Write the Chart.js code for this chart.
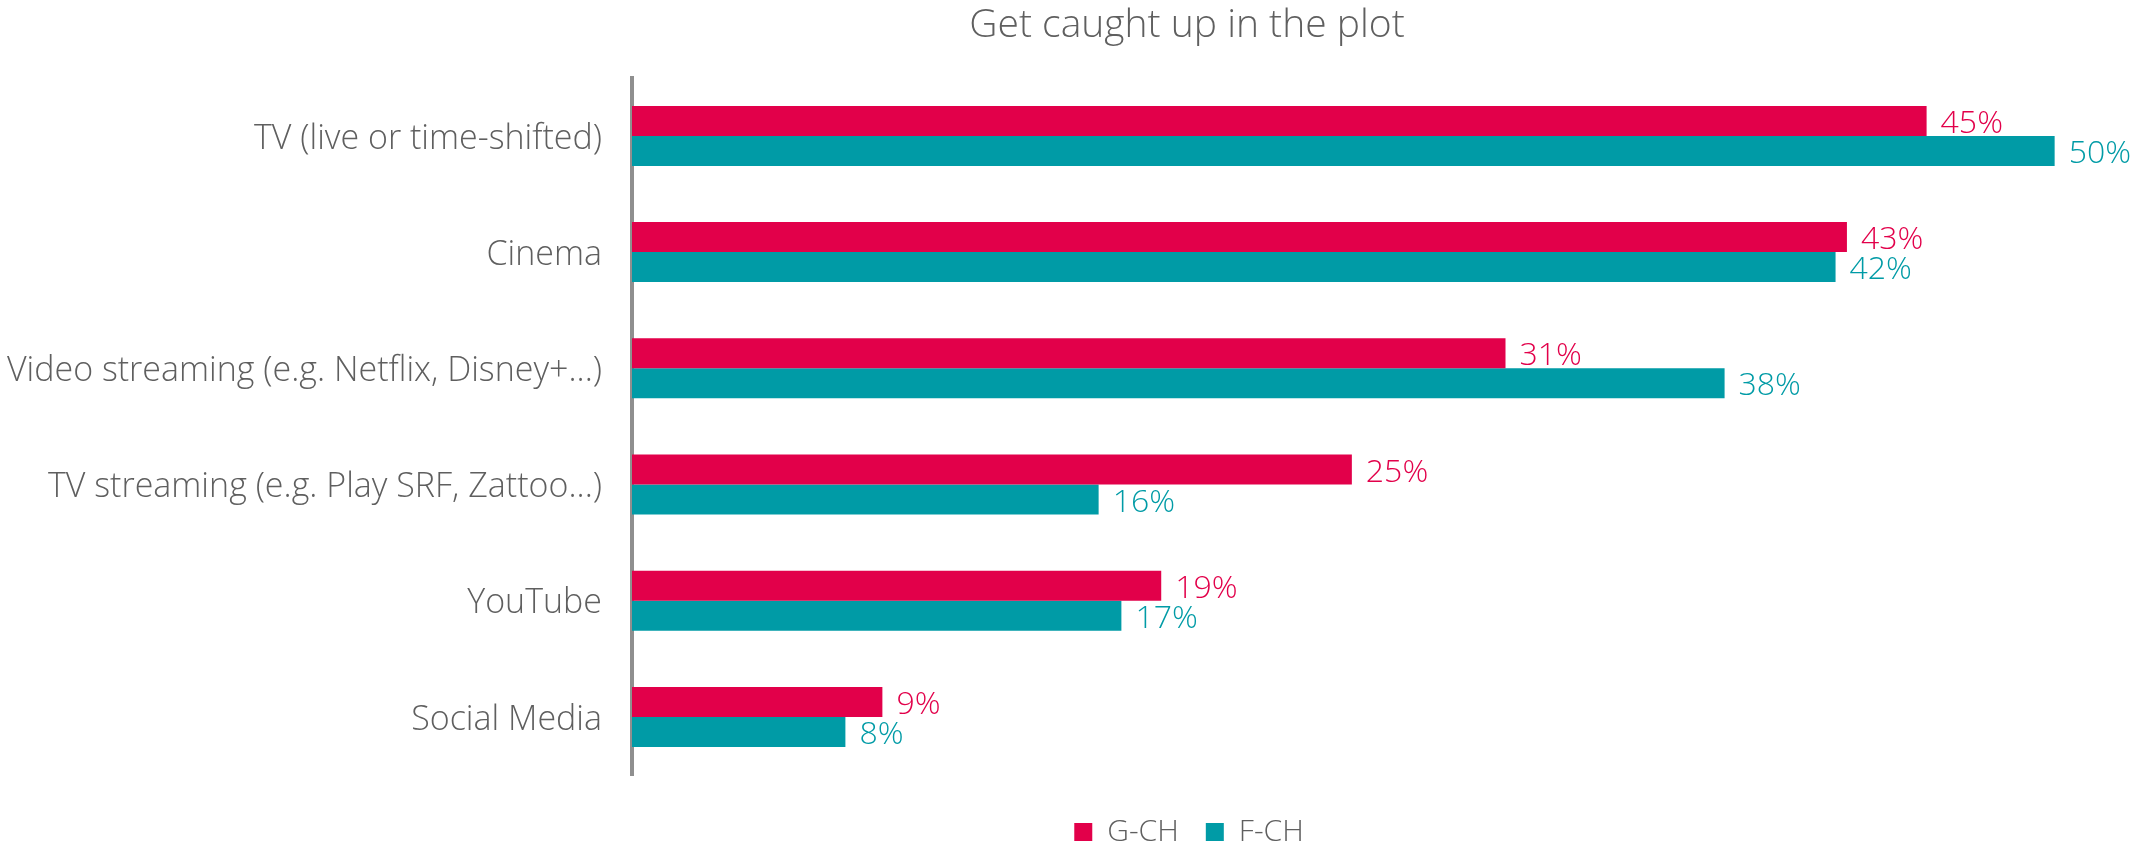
<!DOCTYPE html>
<html>
<head>
<meta charset="utf-8">
<script src="https://cdn.jsdelivr.net/npm/chart.js@4.4.1/dist/chart.umd.min.js"></script>
<style>
  html, body { margin: 0; padding: 0; background: #ffffff; }
  #wrap { width: 2152px; height: 845px; position: relative; }
</style>
</head>
<body>
<div id="wrap"><canvas id="c" width="2152" height="845"></canvas></div>
<script>
const categories = [
  'TV (live or time-shifted)',
  'Cinema',
  'Video streaming (e.g. Netflix, Disney+...)',
  'TV streaming (e.g. Play SRF, Zattoo...)',
  'YouTube',
  'Social Media'
];
const seriesNames = ['G-CH', 'F-CH'];
const valuesG = [45.5, 42.7, 30.7, 25.3, 18.6, 8.8];
const valuesF = [50.0, 42.3, 38.4, 16.4, 17.2, 7.5];
const labelsG = ['45%', '43%', '31%', '25%', '19%', '9%'];
const labelsF = ['50%', '42%', '38%', '16%', '17%', '8%'];
const colorG = '#e2004a';
const colorF = '#009ba6';
const FONT = '"Open Sans", Lato, sans-serif';
const TEXT_GRAY = '#5f5f5f';
const TITLE_DX = 117;
const LEGEND_DX = 119;

const valueLabels = {
  id: 'valueLabels',
  afterDatasetsDraw(chart) {
    const ctx = chart.ctx;
    chart.data.datasets.forEach((ds, i) => {
      const meta = chart.getDatasetMeta(i);
      meta.data.forEach((bar, j) => {
        ctx.save();
        ctx.fillStyle = ds.backgroundColor;
        ctx.font = '300 32px ' + FONT;
        ctx.textBaseline = 'middle';
        ctx.textAlign = 'left';
        ctx.fillText(ds.valueLabels[j], bar.x + 14, bar.y + 3);
        ctx.restore();
      });
    });
  }
};

const shiftBlocks = {
  id: 'shiftBlocks',
  afterLayout(chart) {
    const t = chart.titleBlock;
    if (t) { t.left += TITLE_DX; t.right += TITLE_DX; }
    const l = chart.legend;
    if (l) { l.left += LEGEND_DX; l.right += LEGEND_DX; }
  }
};

new Chart(document.getElementById('c'), {
  type: 'bar',
  data: {
    labels: categories,
    datasets: [
      { label: seriesNames[0], data: valuesG, valueLabels: labelsG, backgroundColor: colorG,
        categoryPercentage: 0.516, barPercentage: 1.0 },
      { label: seriesNames[1], data: valuesF, valueLabels: labelsF, backgroundColor: colorF,
        categoryPercentage: 0.516, barPercentage: 1.0 }
    ]
  },
  options: {
    indexAxis: 'y',
    responsive: false,
    animation: false,
    layout: { padding: { left: 0, right: 12, top: 0, bottom: -12 } },
    scales: {
      x: {
        type: 'linear', min: 0, max: 53,
        grid: { display: false },
        border: { display: false },
        ticks: { display: false },
        afterFit(s) { s.height = 15; }
      },
      y: {
        type: 'category',
        grid: { display: false, drawTicks: false },
        border: { display: true, color: '#8f8f8f', width: 4 },
        ticks: { color: TEXT_GRAY, font: { family: FONT, size: 34, weight: 300 }, padding: 30, labelOffset: 3 },
        afterFit(s) { s.width = 632; }
      }
    },
    plugins: {
      title: {
        display: true,
        text: 'Get caught up in the plot',
        color: TEXT_GRAY,
        font: { family: FONT, size: 39, weight: 300 },
        padding: { top: 2, bottom: 29 }
      },
      legend: {
        display: true,
        position: 'bottom',
        labels: {
          color: TEXT_GRAY,
          font: { family: FONT, size: 30, weight: 300 },
          boxWidth: 18, boxHeight: 18, padding: 27
        }
      },
      tooltip: { enabled: false }
    }
  },
  plugins: [valueLabels, shiftBlocks]
});
</script>
</body>
</html>
